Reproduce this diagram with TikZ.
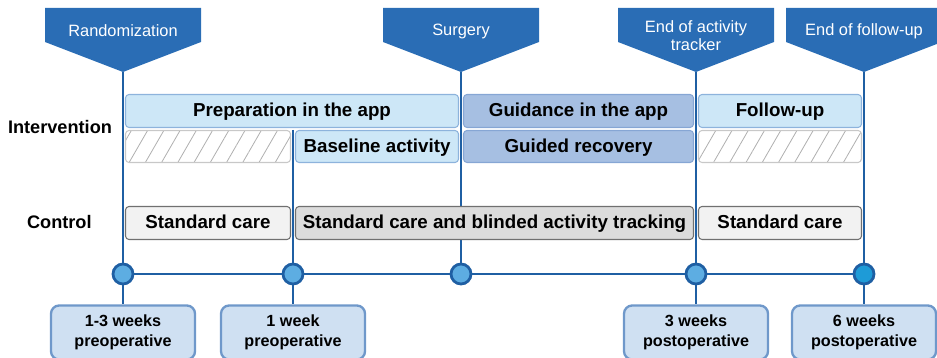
\documentclass[tikz,border=0pt]{standalone}
\usepackage{fontspec}
\setmainfont{Liberation Sans}
\usetikzlibrary{calc, backgrounds, patterns.meta}
\definecolor{StudyBlue}{HTML}{2A6DB5}
\definecolor{StudyLine}{HTML}{1F5FA3}
\definecolor{AppLight}{HTML}{CDE7F7}
\definecolor{AppLightEdge}{HTML}{8DB3DC}
\definecolor{AppDark}{HTML}{A6BFE2}
\definecolor{AppDarkEdge}{HTML}{86A6D4}
\definecolor{CareLight}{HTML}{F2F2F2}
\definecolor{CareDark}{HTML}{DCDCDC}
\definecolor{CareEdge}{HTML}{707070}
\definecolor{HatchGrey}{HTML}{B0B0B0}
\definecolor{PointFill}{HTML}{5DADE2}
\definecolor{PointLast}{HTML}{1E9BD7}
\definecolor{WeekFill}{HTML}{CFE0F2}
\definecolor{WeekEdge}{HTML}{6F98CA}
\tikzset{
    % Phase bars - intervention and control arms
    appbar/.style={
        rectangle,
        rounded corners=3pt,
        draw=AppLightEdge,
        fill=AppLight,
        line width=0.9pt,
        minimum height=0.99cm,
        inner sep=0pt,
        text height=1.95ex,
        text depth=0.1ex,
        font=\fontsize{16}{18}\selectfont\bfseries
    },
    guidebar/.style={
        appbar,
        draw=AppDarkEdge,
        fill=AppDark
    },
    carebar/.style={
        appbar,
        draw=CareEdge,
        fill=CareLight
    },
    trackbar/.style={
        carebar,
        fill=CareDark
    },
    hatchbar/.style={
        appbar,
        draw=HatchGrey!70,
        fill=none,
        pattern={Lines[angle=60, distance=12pt, line width=0.7pt]},
        pattern color=HatchGrey
    },
    armlabel/.style={
        font=\fontsize{15.5}{18}\selectfont\bfseries
    },
    % Milestone banners
    bannertext/.style={
        text=white,
        align=center,
        inner sep=0pt,
        font=\fontsize{14}{15.5}\selectfont
    },
    % Timeline
    timepoint/.style={
        circle,
        draw=StudyLine,
        fill=PointFill,
        line width=2.4pt,
        minimum size=0.6cm,
        inner sep=0pt
    },
    weekbox/.style={
        rectangle,
        rounded corners=7pt,
        draw=WeekEdge,
        fill=WeekFill,
        line width=2pt,
        minimum width=4.32cm,
        minimum height=1.62cm,
        align=center,
        font=\fontsize{13.8}{17}\selectfont\bfseries
    },
    timeline/.style={
        draw=StudyLine,
        line width=1.7pt
    }
}

\begin{document}
\begin{tikzpicture}
    \useasboundingbox (0,0) rectangle (28.11,10.74);

    % Milestone banners
    \foreach \x/\ty/\name/\txt in {3.69/9.81/rand/Randomization, 13.83/9.81/surg/Surgery,
        20.88/9.66/endact/{End of activity\\tracker}, 25.92/9.81/endfu/End of follow-up} {
        \fill[StudyBlue] (\x-2.34,10.50) -- (\x+2.34,10.50) -- (\x+2.34,9.48) -- (\x,8.58) -- (\x-2.34,9.48) -- cycle;
        \node[bannertext] (\name) at (\x,\ty) {\txt};
        \coordinate (\name-tip) at (\x,8.58);
    }

    \node[armlabel] (interv) at (1.80,6.93) {Intervention};
    \node[armlabel] (ctrl) at (1.78,4.08) {Control};

    % Intervention arm
    \node[appbar, minimum width=9.99cm] (prep) at (8.76,7.41) {Preparation in the app};
    \node[guidebar, minimum width=6.90cm] (guide) at (17.355,7.41) {Guidance in the app};
    \node[appbar, minimum width=4.89cm] (follow) at (23.40,7.41) {Follow-up};

    \node[hatchbar, minimum width=4.95cm, minimum height=0.96cm] (hatch1) at (6.24,6.345) {};
    \node[appbar, minimum width=4.89cm, minimum height=0.96cm] (base) at (11.31,6.345) {Baseline activity};
    \node[guidebar, minimum width=6.90cm, minimum height=0.96cm] (recov) at (17.355,6.345) {Guided recovery};
    \node[hatchbar, minimum width=4.89cm, minimum height=0.96cm] (hatch2) at (23.40,6.345) {};
    \coordinate (base-top) at (8.79,6.84);

    % Control arm
    \node[carebar, minimum width=4.95cm] (care1) at (6.24,4.05) {Standard care};
    \node[trackbar, minimum width=11.94cm] (track) at (14.835,4.05) {Standard care and blinded activity tracking};
    \node[carebar, minimum width=4.89cm] (care2) at (23.40,4.05) {Standard care};

    % Timeline points and weeks
    \node[timepoint] (t1) at (3.69,2.52) {};
    \node[timepoint] (t2) at (8.79,2.52) {};
    \node[timepoint] (t3) at (13.83,2.52) {};
    \node[timepoint] (t4) at (20.88,2.52) {};
    \node[timepoint, fill=PointLast] (t5) at (25.92,2.52) {};

    \node[weekbox] (w1) at (3.69,0.765) {1-3 weeks\\preoperative};
    \node[weekbox] (w2) at (8.79,0.765) {1 week\\preoperative};
    \node[weekbox] (w3) at (20.88,0.765) {3 weeks\\postoperative};
    \node[weekbox] (w4) at (25.92,0.765) {6 weeks\\postoperative};

    \begin{scope}[on background layer]
        \draw[timeline] (rand-tip) -- (t1);
        \draw[timeline] (base-top) -- (t2);
        \draw[timeline] (surg-tip) -- (t3);
        \draw[timeline] (endact-tip) -- (t4);
        \draw[timeline] (endfu-tip) -- (t5);
        \draw[timeline] (t1) -- (t5);
        \draw[timeline] (t1) -- (w1);
        \draw[timeline] (t2) -- (w2);
        \draw[timeline] (t4) -- (w3);
        \draw[timeline] (t5) -- (w4);
    \end{scope}
\end{tikzpicture}
\end{document}
